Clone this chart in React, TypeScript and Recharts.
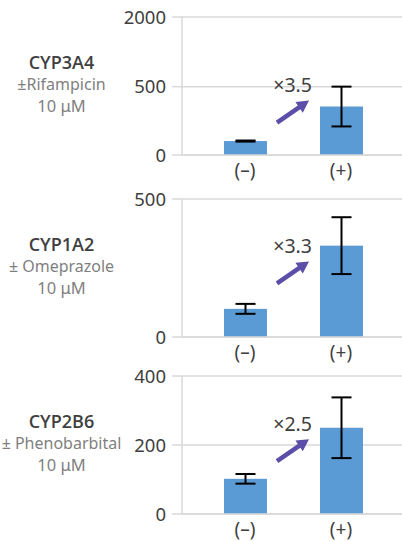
import { BarChart, Bar, XAxis, YAxis, CartesianGrid, ErrorBar } from 'recharts'

const CONDITIONS = ['(–)', '(+)']

const CYP3A4_MEAN = [102, 355]
const CYP3A4_SD = [4, 146]
const CYP1A2_MEAN = [102, 331]
const CYP1A2_SD = [18, 103]
const CYP2B6_MEAN = [102, 250]
const CYP2B6_SD = [14, 88]

const CYP3A4_TICKS = [0, 500, 2000]
const CYP1A2_TICKS = [0, 500]
const CYP2B6_TICKS = [0, 200, 400]

const FOLD_LABELS = ['×3.5', '×3.3', '×2.5']
// height of the arrow tip, in each panel's own units
const ARROW_TIPS = [398, 274, 217]

const FONT = '"Noto Sans", "Open Sans", sans-serif'
const GRID = '#d9d9d9'
const TEXT = '#404040'
const BLUE = '#5B9BD5'
const PURPLE = '#5B4EA8'

// the CYP3A4 axis is broken above 500: 500..2000 takes about as much room as 0..500
const BREAK = 500
const SQUEEZE = 0.34
const squeeze = (v: number) => (v <= BREAK ? v : BREAK + (v - BREAK) * SQUEEZE)
const unsqueeze = (v: number) => (v <= BREAK ? v : BREAK + (v - BREAK) / SQUEEZE)
const same = (v: number) => v

const PLOT_H = 138
const TOP_MARGIN = 16

function FoldArrow({ x, y, label }: { x: number; y: number; label: string }) {
  const dx = 32
  const dy = -22
  const len = Math.hypot(dx, dy)
  const ux = dx / len
  const uy = dy / len
  const nx = -uy
  const ny = ux
  const head = 12
  const hw = 6.5
  const sw = 2.3
  const tx = x - dx
  const ty = y - dy
  const kx = x - ux * head
  const ky = y - uy * head
  const pts = [
    [tx + nx * sw, ty + ny * sw],
    [kx + nx * sw, ky + ny * sw],
    [kx + nx * hw, ky + ny * hw],
    [x, y],
    [kx - nx * hw, ky - ny * hw],
    [kx - nx * sw, ky - ny * sw],
    [tx - nx * sw, ty - ny * sw],
  ]
  return (
    <g>
      <polygon points={pts.map((p) => p.join(',')).join(' ')} fill={PURPLE} />
      <text x={x + 3} y={y - 8.5} textAnchor="end" fontSize={19.5} fill={TEXT} fontFamily={FONT}>
        {label}
      </text>
    </g>
  )
}

type PanelProps = {
  title: string
  drug: string
  mean: number[]
  sd: number[]
  ticks: number[]
  fold: string
  tip: number
  plotTop: number
  toAxis: (v: number) => number
  fromAxis: (v: number) => number
}

function Panel({ title, drug, mean, sd, ticks, fold, tip, plotTop, toAxis, fromAxis }: PanelProps) {
  const data = CONDITIONS.map((c, i) => ({
    cond: c,
    value: toAxis(mean[i]),
    err: [toAxis(mean[i]) - toAxis(mean[i] - sd[i]), toAxis(mean[i] + sd[i]) - toAxis(mean[i])],
  }))
  const axisTicks = ticks.map(toAxis)
  const zeroY = plotTop + PLOT_H

  return (
    <>
      <div
        style={{
          position: 'absolute',
          left: 0,
          top: zeroY - 104,
          width: 123,
          display: 'flex',
          flexDirection: 'column',
          alignItems: 'center',
          whiteSpace: 'nowrap',
          lineHeight: '22px',
          fontFamily: FONT,
        }}
      >
        <div style={{ fontSize: 18, fontWeight: 600, color: TEXT, fontFamily: '"Open Sans", sans-serif' }}>
          {title}
        </div>
        <div style={{ fontSize: 16, color: '#7f7f7f' }}>{drug}</div>
        <div style={{ fontSize: 16.5, color: '#7f7f7f' }}>10 μM</div>
      </div>
      <div style={{ position: 'absolute', left: 0, top: plotTop - TOP_MARGIN }}>
        <BarChart
          width={402}
          height={TOP_MARGIN + PLOT_H + 32}
          data={data}
          margin={{ top: TOP_MARGIN, right: 0, bottom: 0, left: 0 }}
        >
          <CartesianGrid vertical={false} stroke={GRID} strokeWidth={1.5} />
          <XAxis
            dataKey="cond"
            height={32}
            padding={{ left: 15, right: 13 }}
            tickLine={false}
            axisLine={{ stroke: GRID, strokeWidth: 1.5 }}
            tick={{ fill: TEXT, fontSize: 19, fontFamily: FONT }}
            tickMargin={3}
          />
          <YAxis
            width={182}
            domain={[0, axisTicks[axisTicks.length - 1]]}
            ticks={axisTicks}
            interval={0}
            tickFormatter={(v) => String(Math.round(fromAxis(v)))}
            tickSize={10}
            tickMargin={6}
            tickLine={{ stroke: GRID, strokeWidth: 1.5 }}
            axisLine={{ stroke: GRID, strokeWidth: 1.5 }}
            tick={{ fill: TEXT, fontSize: 18.5, fontFamily: FONT }}
          />
          <Bar
            dataKey="value"
            fill={BLUE}
            barSize={43}
            isAnimationActive={false}
            shape={(p: any) => {
              const base = p.y + p.height
              const perUnit = p.payload.value ? p.height / p.payload.value : 0
              return (
                <g>
                  <rect x={p.x} y={p.y} width={p.width} height={p.height} fill={BLUE} />
                  {p.payload.cond === CONDITIONS[1] && (
                    <FoldArrow x={p.x - 11} y={base - toAxis(tip) * perUnit} label={fold} />
                  )}
                </g>
              )
            }}
          >
            <ErrorBar dataKey="err" width={10} stroke="#000" strokeWidth={2} isAnimationActive={false} />
          </Bar>
        </BarChart>
      </div>
    </>
  )
}

export default function App() {
  return (
    <div
      style={{
        position: 'absolute',
        left: 0,
        top: 0,
        width: 402,
        height: 541,
        overflow: 'hidden',
        background: '#fff',
      }}
    >
      <Panel
        title="CYP3A4"
        drug="±Rifampicin"
        mean={CYP3A4_MEAN}
        sd={CYP3A4_SD}
        ticks={CYP3A4_TICKS}
        fold={FOLD_LABELS[0]}
        tip={ARROW_TIPS[0]}
        plotTop={16.7}
        toAxis={squeeze}
        fromAxis={unsqueeze}
      />
      <Panel
        title="CYP1A2"
        drug="± Omeprazole"
        mean={CYP1A2_MEAN}
        sd={CYP1A2_SD}
        ticks={CYP1A2_TICKS}
        fold={FOLD_LABELS[1]}
        tip={ARROW_TIPS[1]}
        plotTop={199.3}
        toAxis={same}
        fromAxis={same}
      />
      <Panel
        title="CYP2B6"
        drug="± Phenobarbital"
        mean={CYP2B6_MEAN}
        sd={CYP2B6_SD}
        ticks={CYP2B6_TICKS}
        fold={FOLD_LABELS[2]}
        tip={ARROW_TIPS[2]}
        plotTop={376}
        toAxis={same}
        fromAxis={same}
      />
    </div>
  )
}
